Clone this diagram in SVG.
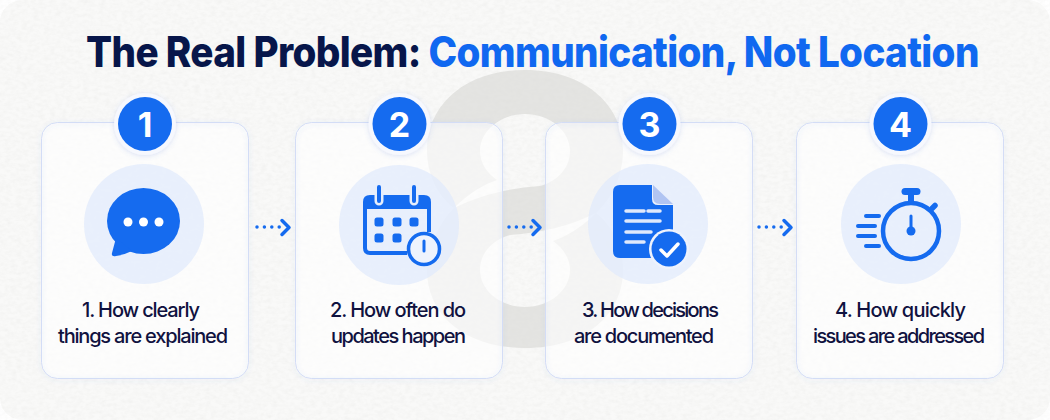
<svg xmlns="http://www.w3.org/2000/svg" width="1050" height="420" viewBox="0 0 1050 420">
<defs>
<filter id="paper" x="0" y="0" width="100%" height="100%"><feTurbulence type="fractalNoise" baseFrequency="0.18 0.28" numOctaves="4" seed="4"/><feColorMatrix values="0 0 0 0 0.5 0 0 0 0 0.5 0 0 0 0 0.47 0.13 0.13 0 0 -0.1"/></filter>
<filter id="sh" x="-20%" y="-20%" width="140%" height="140%"><feDropShadow dx="0" dy="1" stdDeviation="2.500" flood-color="#4f72d8" flood-opacity="0.2"/></filter>
</defs>
<style>
.card{fill:#fff;fill-opacity:.62}
.edge{fill:none;stroke:#d3ddf6;stroke-width:1;filter:url(#sh)}
.halo{fill:#f6f8fe;filter:url(#sh)}
.badge{fill:#156bef}
.num{font:700 34px Inter,"Liberation Sans",sans-serif;fill:#fff;text-anchor:middle}
.disc{fill:#dfe9fc;fill-opacity:.68}
.lab{font:500 20px Inter,"Liberation Sans",sans-serif;fill:#10123f;text-anchor:middle}
.t{font:800 42px Inter,"Liberation Sans",sans-serif;letter-spacing:-.7px}
.b{fill:#156bef}.l{stroke:#156bef;fill:none;stroke-linecap:round;stroke-linejoin:round}
.w{fill:none;stroke-linecap:round}
</style>
<rect width="1050" height="420" rx="22" fill="#f9f9f8"/>
<rect width="1050" height="420" rx="22" filter="url(#paper)"/>
<path id="watermark" fill="#d8d8d6" fill-opacity=".65" fill-rule="evenodd" d="M525 70C585 70 623 105 623 150C623 178 610 200 596 213C612 226 623 247 623 270C623 315 585 348 525 348C465 348 427 315 427 270C427 247 440 222 454 208C438 196 427 175 427 150C427 105 465 70 525 70ZM525 114C550 114 570 131 570 151C570 170 555 182 540 186C510 188 480 195 454 208C470 192 485 184 497 180C487 173 480 163 480 151C480 131 500 114 525 114ZM525 307C500 307 480 290 480 270C480 251 495 239 510 235C540 233 570 226 596 213C580 229 565 237 553 241C563 248 570 258 570 270C570 290 550 307 525 307Z"/>
<text class="t" transform="translate(86 67) scale(.92 1)" fill="#07164a">The Real Problem: <tspan fill="#1068f0">Communication, Not Location</tspan></text>
<g id="connectors" class="l">
<path d="M257 227H280" stroke-dasharray="0 7.400" stroke-width="3.500"/><path d="M282 220.500L289 227.500L282 234.500" stroke-width="3.500"/>
<path d="M509 227H532" stroke-dasharray="0 7.400" stroke-width="3.500"/><path d="M533 220.500L540 227.500L533 234.500" stroke-width="3.500"/>
<path d="M759 227H782" stroke-dasharray="0 7.400" stroke-width="3.500"/><path d="M784 220.500L791 227.500L784 234.500" stroke-width="3.500"/>
</g>
<g id="node-1"><rect class="card" x="41.500" y="122.500" width="207" height="256" rx="16"/><rect class="edge" x="41.500" y="122.500" width="207" height="256" rx="16"/><circle class="halo" cx="145" cy="124" r="31"/><circle class="badge" cx="145" cy="124" r="27"/><text class="num" x="145" y="136.500">1</text><circle class="disc" cx="144" cy="224" r="60"/>
<ellipse class="b" cx="143.500" cy="221" rx="36.500" ry="33"/><path class="b" d="M116 238L112 253Q111 257 116 256Q124 255 132 251Z"/><g fill="#fff"><circle cx="128" cy="222" r="4.500"/><circle cx="143.500" cy="222" r="4.500"/><circle cx="159" cy="222" r="4.500"/></g>
<text class="lab" x="141" y="317" textLength="118">1. How clearly</text><text class="lab" x="143" y="343" textLength="170">things are explained</text></g>
<g id="node-2"><rect class="card" x="295.500" y="122.500" width="207" height="256" rx="16"/><rect class="edge" x="295.500" y="122.500" width="207" height="256" rx="16"/><circle class="halo" cx="399.500" cy="124" r="31"/><circle class="badge" cx="399.500" cy="124" r="27"/><text class="num" x="399.500" y="136.500">2</text><circle class="disc" cx="399" cy="225" r="60"/>
<path class="b" d="M370 195H424Q431 195 431 202V232H427V209H367V248Q367 251 370 251H407V255H370Q363 255 363 248V202Q363 195 370 195Z"/>
<g class="b"><rect x="374.500" y="217.500" width="9" height="9" rx="2.500"/><rect x="392.500" y="217.500" width="9" height="9" rx="2.500"/><rect x="409.500" y="217.500" width="9" height="9" rx="2.500"/><rect x="374.500" y="233.500" width="9" height="9" rx="2.500"/><rect x="392.500" y="233.500" width="9" height="9" rx="2.500"/></g>
<path class="w" stroke="#e6eefc" stroke-width="9" d="M379 190V201M414 190V201"/><path class="l" stroke-width="4" d="M379 187V201M414 187V201"/>
<circle cx="424" cy="249" r="15.500" fill="#eef3fd" stroke="#156bef" stroke-width="3.500"/><path class="l" stroke-width="3" d="M424 241V251"/>
<text class="lab" x="398" y="317" textLength="136">2. How often do</text><text class="lab" x="398.500" y="343" textLength="135">updates happen</text></g>
<g id="node-3"><rect class="card" x="545.500" y="122.500" width="207" height="256" rx="16"/><rect class="edge" x="545.500" y="122.500" width="207" height="256" rx="16"/><circle class="halo" cx="649.500" cy="124" r="31"/><circle class="badge" cx="649.500" cy="124" r="27"/><text class="num" x="649.500" y="136.500">3</text><circle class="disc" cx="648" cy="224" r="60"/>
<path class="b" d="M620 185H652V199Q652 205 658 205H673V258H620Q613 258 613 251V192Q613 185 620 185Z"/><path fill="#b0c4f2" d="M653 185L673 204H660Q653 204 653 197Z"/>
<path class="w" stroke="#dfe9fc" stroke-width="3.500" d="M626 211H644M648 211H660M626 221H660M626 232H651M626 242H644"/>
<circle cx="669" cy="249" r="20" fill="#eef3fd"/><circle cx="669" cy="249" r="17.500" class="b"/><path d="M661 250L667 256L678 244" fill="none" stroke="#fff" stroke-width="3.500" stroke-linecap="round" stroke-linejoin="round"/>
<text class="lab" x="650.500" y="317" textLength="137">3. How decisions</text><text class="lab" x="644" y="343" textLength="140">are documented</text></g>
<g id="node-4"><rect class="card" x="796.500" y="122.500" width="207" height="256" rx="16"/><rect class="edge" x="796.500" y="122.500" width="207" height="256" rx="16"/><circle class="halo" cx="900.500" cy="124" r="31"/><circle class="badge" cx="900.500" cy="124" r="27"/><text class="num" x="900.500" y="136.500">4</text><circle class="disc" cx="901" cy="224" r="60"/>
<g class="l"><circle cx="911" cy="231" r="28" stroke-width="4.500"/><path stroke-width="7" d="M905 191.500H917"/><path stroke-width="6" d="M911 194V201"/><path stroke-width="5.500" d="M932 208.500L935 205.500"/><path stroke-width="3" d="M911 216V231"/><path stroke-width="4" d="M866 216H879M858 226H875M858 236H875M866 246H879"/></g><circle cx="911" cy="231" r="4.500" class="b"/>
<text class="lab" x="900.500" y="317" textLength="131">4. How quickly</text><text class="lab" x="899" y="343" textLength="172">issues are addressed</text></g>
</svg>
